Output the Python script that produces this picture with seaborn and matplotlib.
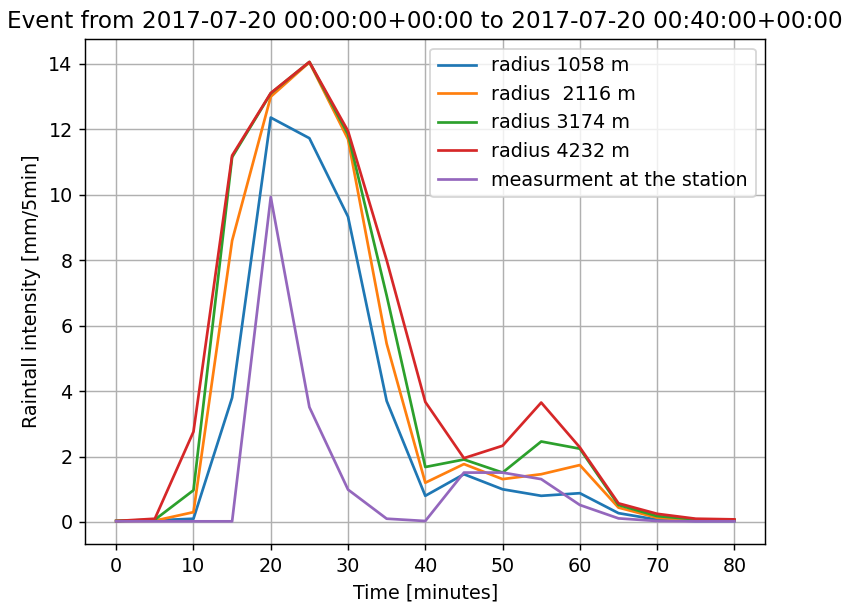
import matplotlib
matplotlib.use("Agg")
import matplotlib.pyplot as plt
import seaborn as sns
import pandas as pd

time_min = [0, 5, 10, 15, 20, 25, 30, 35, 40, 45, 50, 55, 60, 65, 70, 75, 80]
r1058 = [0.03, 0.05, 0.10, 3.80, 12.36, 11.73, 9.33, 3.70, 0.80, 1.46, 1.00, 0.80, 0.88, 0.27, 0.07, 0.03, 0.03]
r2116 = [0.03, 0.04, 0.30, 8.60, 13.00, 14.05, 11.70, 5.45, 1.20, 1.77, 1.31, 1.46, 1.74, 0.44, 0.13, 0.05, 0.05]
r3174 = [0.03, 0.07, 0.97, 11.15, 13.10, 14.06, 11.85, 6.92, 1.68, 1.91, 1.51, 2.46, 2.24, 0.52, 0.18, 0.08, 0.06]
r4232 = [0.03, 0.10, 2.76, 11.20, 13.11, 14.06, 11.95, 8.00, 3.67, 1.95, 2.33, 3.65, 2.28, 0.57, 0.25, 0.10, 0.08]
station = [0.02, 0.02, 0.02, 0.02, 9.93, 3.51, 0.99, 0.10, 0.03, 1.51, 1.51, 1.31, 0.52, 0.11, 0.03, 0.02, 0.02]
labels = ["radius 1058 m", "radius  2116 m", "radius 3174 m", "radius 4232 m", "measurment at the station"]

frames = []
for lab, vals in zip(labels, [r1058, r2116, r3174, r4232, station]):
    frames.append(pd.DataFrame({"t": time_min, "v": vals, "series": lab}))
df = pd.concat(frames, ignore_index=True)

plt.rcParams["font.size"] = 10.6
plt.rcParams["axes.titlesize"] = 12.8

dpi = 130
fig = plt.figure(figsize=(842 / dpi, 606 / dpi), dpi=dpi)
ax = fig.add_axes([85.3 / 842, 61.7 / 606, 680 / 842, 505.3 / 606])
palette = dict(zip(labels, sns.color_palette("tab10", 5)))
sns.lineplot(data=df, x="t", y="v", hue="series", hue_order=labels, palette=palette, ax=ax, linewidth=1.5)
ax.set_xticks(range(0, 81, 10))
ax.set_yticks(range(0, 15, 2))
ax.grid(True)
ax.set_xlabel("Time [minutes]")
ax.set_ylabel("Raintall intensity [mm/5min]")
ax.set_title("Event from 2017-07-20 00:00:00+00:00 to 2017-07-20 00:40:00+00:00")
ax.legend(loc="upper right", title=None)
fig.savefig("out.png", dpi=dpi)
